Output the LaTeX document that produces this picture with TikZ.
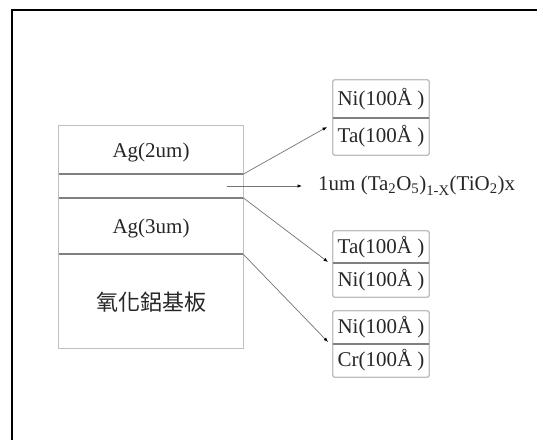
\documentclass[tikz,border=0pt]{standalone}
\usepackage{fontspec}
\setmainfont{Liberation Serif}
\newfontfamily\cjk{Noto Sans CJK TC}
\usetikzlibrary{arrows.meta}
\begin{document}
\begin{tikzpicture}[x=1pt,y=1pt,
  layer/.style={minimum width=184pt,inner sep=0pt,text depth=0pt,font=\fontsize{21}{24}\selectfont,text=black!85},
  cell/.style={minimum width=96pt,inner sep=0pt,font=\fontsize{21}{24}\selectfont,text=black!85},
  outline/.style={draw=black!25,line width=1.3pt},
  sep/.style={draw=black!50,line width=1.6pt},
  conn/.style={draw=black!55,line width=0.7pt,-{Latex[black,length=4.5pt,width=3.5pt]}}]
\useasboundingbox (0,0) rectangle (537,439);
% frame
\draw[line width=2.2pt] (12,-2) -- (12,429) -- (540,429);
% stack
\node[layer,minimum height=48pt] (ag2) at (151,289) {Ag(2um)};
\node[layer,minimum height=24pt] (mid) at (151,253) {};
\node[layer,minimum height=56pt] (ag3) at (151,213) {Ag(3um)};
\node[layer,minimum height=94pt,font=\cjk\fontsize{22}{24}\selectfont] (sub) at (151,138) {氧化鋁基板};
\draw[outline] (ag2.north west) rectangle (sub.south east);
\draw[sep] (ag2.south west) -- (ag2.south east);
\draw[sep] (ag3.north west) -- (ag3.north east);
\draw[sep] (ag3.south west) -- (ag3.south east);
% right boxes
\node[cell,minimum height=38pt] (ni1) at (381,340) {Ni(100Å )};
\node[cell,minimum height=37pt] (ta1) at (381,302.5) {Ta(100Å )};
\draw[outline,rounded corners=1.5pt] (ni1.north west) rectangle (ta1.south east);
\draw[sep] (ni1.south west) -- (ni1.south east);
\node[cell,minimum height=32pt] (ta2) at (381,192) {Ta(100Å )};
\node[cell,minimum height=34pt] (ni2) at (381,159) {Ni(100Å )};
\draw[outline,rounded corners=1.5pt] (ta2.north west) rectangle (ni2.south east);
\draw[sep] (ta2.south west) -- (ta2.south east);
\node[cell,minimum height=33pt] (ni3) at (381,111.5) {Ni(100Å )};
\node[cell,minimum height=33pt] (cr3) at (381,78.5) {Cr(100Å )};
\draw[outline,rounded corners=1.5pt] (ni3.north west) rectangle (cr3.south east);
\draw[sep] (ni3.south west) -- (ni3.south east);
% label
\node[anchor=west,inner sep=0pt,font=\fontsize{21}{24}\selectfont,text=black!85] (tio) at (318,253)
  {1um (Ta\textsubscript{2}O\textsubscript{5})\textsubscript{\raisebox{-2pt}{1-X}}(TiO\textsubscript{2})x};
% connectors
\coordinate (e1) at (327,312);
\coordinate (s2) at (227,253);
\coordinate (e2) at (302,253);
\coordinate (e3) at (328,177);
\coordinate (e4) at (328,97);
\draw[conn] (ag2.south east) -- (e1);
\draw[conn] (s2) -- (e2);
\draw[conn] (ag3.north east) -- (e3);
\draw[conn] (ag3.south east) -- (e4);
\end{tikzpicture}
\end{document}
